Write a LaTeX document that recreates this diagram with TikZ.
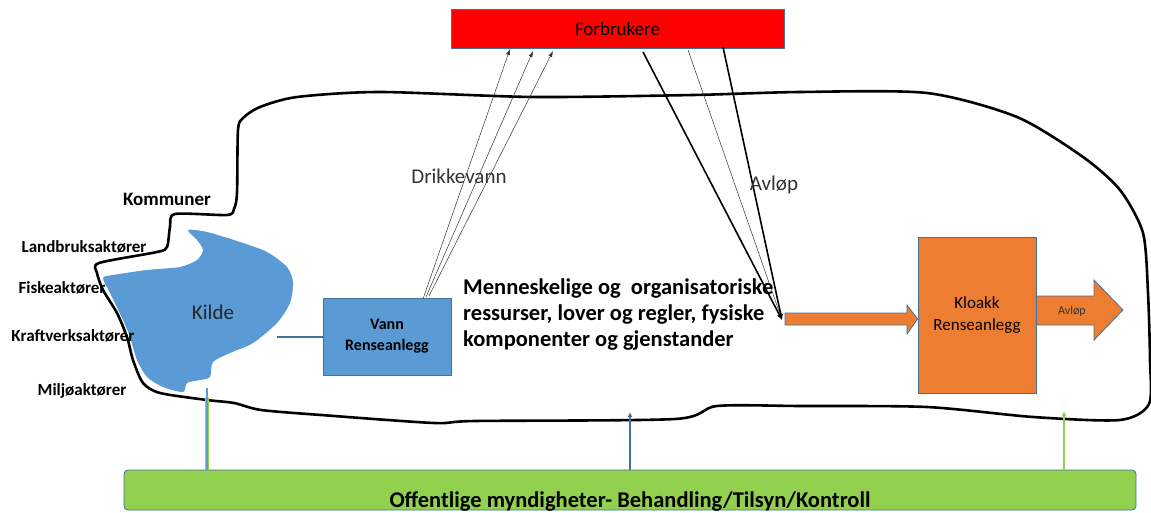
\documentclass[tikz,border=0pt]{standalone}
\usepackage{fontspec}
\setmainfont{Carlito}
\usetikzlibrary{arrows.meta}
\definecolor{boxblue}{HTML}{5B9BD5}
\definecolor{edgeblue}{HTML}{41719C}
\definecolor{orng}{HTML}{ED7D31}
\definecolor{grn}{HTML}{92D050}
\definecolor{txtgray}{HTML}{333333}
\begin{document}
\begin{tikzpicture}[x=1pt,y=-1pt,
  sidelbl/.style={font=\bfseries\fontsize{17}{20}\selectfont, inner sep=0pt},
  flatbox/.style={draw=edgeblue, line width=0.8pt, inner sep=0pt},
  thinarrow/.style={-{Latex[length=6pt,width=4pt]}, line width=0.5pt, draw=txtgray},
  thickarrow/.style={-{Latex[length=6pt,width=5pt]}, line width=1.6pt, draw=black},
  uparrow/.style={-{Latex[length=5pt,width=5pt]}, line width=1.8pt}
]
\useasboundingbox (0,0) rectangle (1151,513);
\fill[white] (0,0) rectangle (1151,513);

% outline
\draw[line width=2.6pt, line join=round] plot[smooth cycle, tension=0.45] coordinates {
 (238,130) (243,118) (260,107) (297,97) (380,92) (533,97) (693,95) (800,92)
 (927,93) (1017,117) (1083,157) (1120,190) (1143,233) (1148,293) (1150,360)
 (1149,404) (1120,420) (1033,417) (927,407) (800,406) (717,406) (675,419)
 (475,421) (434,423) (321,415) (261,410) (234,403) (207,400) (160,393)
 (143,383) (133,360) (127,337) (117,313) (103,290) (97,273) (99,263)
 (157,252) (167,247) (170,227) (175,214) (227,215) (234,209) (237,193)};

% Kilde blob
\fill[boxblue] plot[smooth cycle, tension=0.45] coordinates {
 (188,230) (207,232) (240,242) (267,252) (287,267) (293,282) (290,303)
 (277,323) (253,343) (230,353) (213,362) (210,377) (200,380) (187,383)
 (183,392) (163,387) (147,377) (137,360) (130,337) (123,320) (110,293)
 (103,278) (113,275) (147,270) (180,267) (197,260) (203,250) (197,240)};
\node[font=\fontsize{21}{24}\selectfont, text=black!85] (kilde) at (213,312) {Kilde};
\coordinate (blobE) at (277,336.5);

% side labels
\node[font=\bfseries\fontsize{19}{22}\selectfont, inner sep=0pt] (kommuner) at (167,199) {Kommuner};
\node[sidelbl] (landbruk) at (84,247) {Landbruksaktører};
\node[sidelbl] (fiske) at (62,288) {Fiskeaktører};
\node[sidelbl] (kraft) at (73,336) {Kraftverksaktører};
\node[sidelbl] (miljo) at (82,391) {Miljøaktører};

% Forbrukere
\node[flatbox, fill=red, minimum width=333pt, minimum height=39pt,
      font=\fontsize{19}{22}\selectfont] (forb) at (617.5,28.5) {\raisebox{-7pt}{Forbrukere}};

% Vann Renseanlegg
\node[flatbox, fill=boxblue, minimum width=128pt, minimum height=77pt, align=center,
      font=\bfseries\fontsize{16}{21}\selectfont] (vann) at (387,336.5) {Vann\\Renseanlegg};
\draw[draw=edgeblue, line width=2pt] (blobE) -- (vann.west);

% Kloakk Renseanlegg
\node[flatbox, fill=orng, minimum width=118pt, minimum height=156pt, align=center,
      font=\fontsize{17}{22}\selectfont] (kloakk) at (977,315) {Kloakk\\Renseanlegg};

% orange arrow into Kloakk
\filldraw[fill=orng, draw=edgeblue, line width=0.8pt]
  (785,313) -- (907,313) -- (907,305) -- (kloakk.west |- 0,319) -- (907,334) -- (907,325) -- (785,325) -- cycle;
\coordinate (hub) at (782,320);

% Avlop arrow out of Kloakk
\filldraw[fill=orng, draw=edgeblue, line width=0.8pt]
  (kloakk.east |- 0,296) -- (1094,296) -- (1094,280) -- (1123,310) -- (1094,340) -- (1094,325) -- (kloakk.east |- 0,325) -- cycle;
\node[font=\fontsize{12}{14}\selectfont, text=txtgray] (avlopsmall) at (1072,311) {Avløp};

% drinking water arrows
\coordinate (dwA) at (423,299);
\coordinate (dwB) at (426,297);
\coordinate (dwC) at (429,296);
\coordinate (tA) at (510,49);
\coordinate (tB) at (533,51);
\coordinate (tC) at (553,51);
\draw[thinarrow] (dwA) -- (tA);
\draw[thinarrow] (dwB) -- (tB);
\draw[thinarrow] (dwC) -- (tC);
\node[font=\fontsize{21}{24}\selectfont, text=txtgray] (drikke) at (459,176) {Drikkevann};

% sewage arrows
\coordinate (sA) at (643,52);
\coordinate (sB) at (688,50);
\coordinate (sC) at (723,47);
\draw[thickarrow] (sA) -- (hub);
\draw[thinarrow] (sB) -- (hub);
\draw[thickarrow] (sC) -- (hub);
\node[font=\fontsize{21}{24}\selectfont, text=txtgray] (avlop) at (774,185) {Avløp};

% main text
\node[anchor=north west, align=left, inner sep=0pt,
      font=\bfseries\fontsize{22.5}{26}\selectfont] (mtext) at (463,279)
  {Menneskelige og~ organisatoriske\\ressurser, lover og regler, fysiske\\komponenter og gjenstander};

% authorities bar
\node[draw=edgeblue, line width=0.8pt, fill=grn, rounded corners=4pt,
      minimum width=1012pt, minimum height=40pt, inner sep=0pt] (bar) at (630,490) {};
\node[anchor=base, inner sep=0pt, font=\bfseries\fontsize{22.5}{26}\selectfont] (bartext) at (630,507)
  {Offentlige myndigheter- Behandling/Tilsyn/Kontroll};

% upward arrows
\coordinate (upL) at (207,394);
\coordinate (upM) at (630,412);
\coordinate (upR) at (1064,411);
\draw[uparrow, draw=grn, line width=3.6pt] (bar.north -| upL) -- (upL);
\draw[draw=boxblue, line width=2pt] (bar.north -| upL) -- ([yshift=6pt]upL);
\draw[uparrow, draw=edgeblue] (bar.north -| upM) -- (upM);
\draw[uparrow, draw=grn] (bar.north -| upR) -- (upR);
\end{tikzpicture}
\end{document}
